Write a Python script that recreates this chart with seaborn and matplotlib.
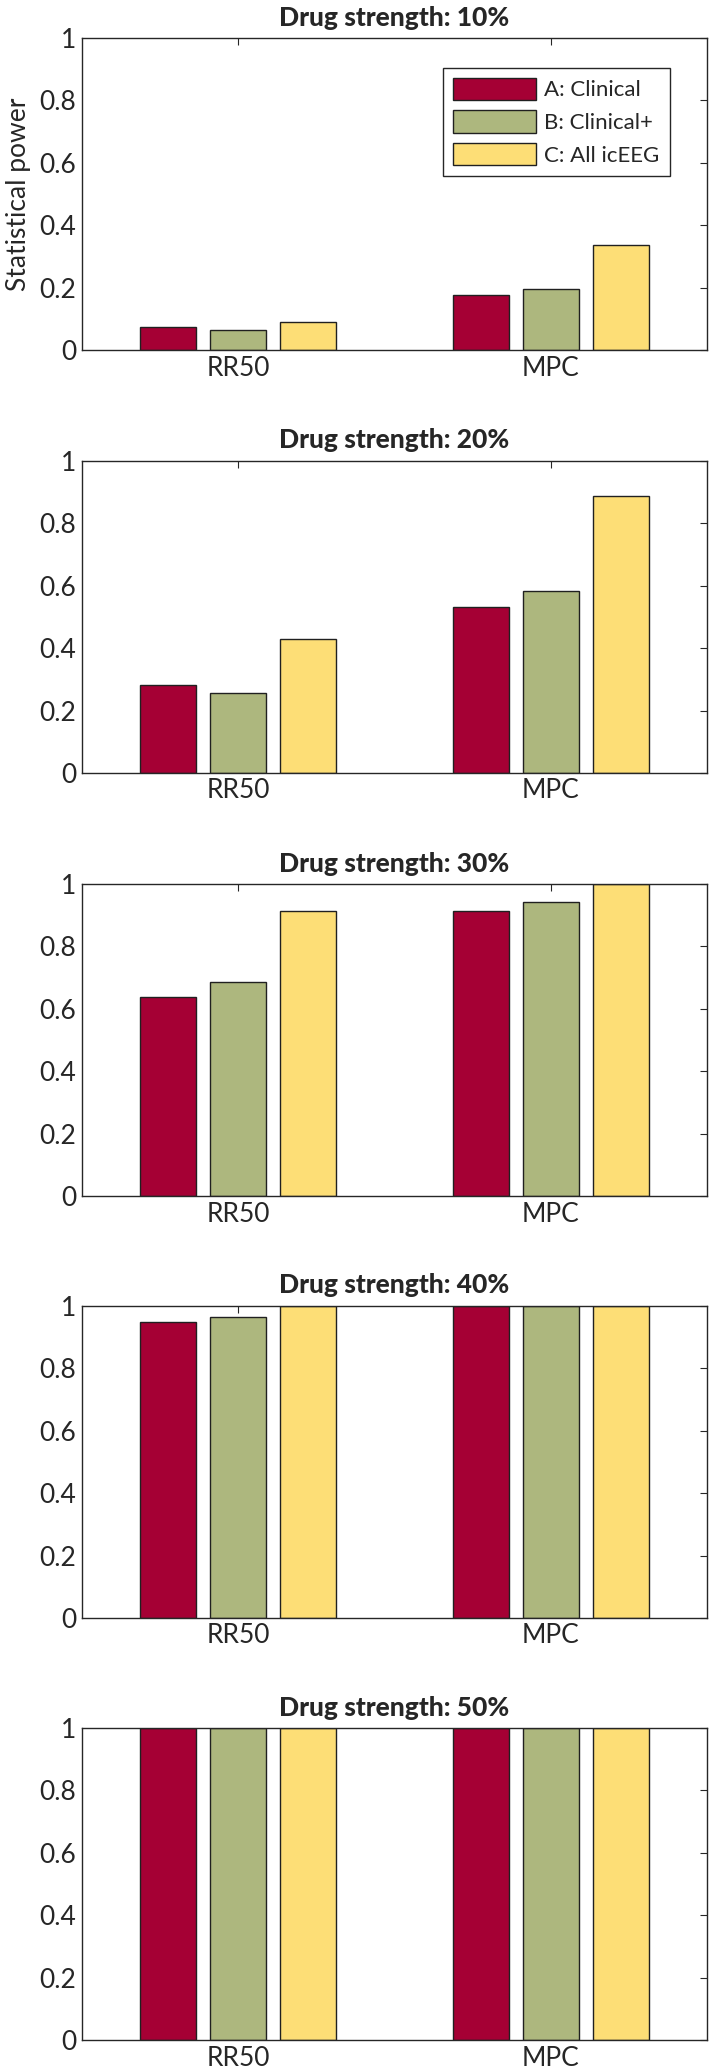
import matplotlib
matplotlib.use("Agg")
import matplotlib.pyplot as plt
import numpy as np
import pandas as pd
import seaborn as sns

strengths = ["10%", "20%", "30%", "40%", "50%"]
metrics = ["RR50", "MPC"]
groups = ["A: Clinical", "B: Clinical+", "C: All icEEG"]
colors = ["#A50034", "#ADB77E", "#FDDE76"]

# values per panel: [RR50, MPC]
power_clinical = [[0.073, 0.175], [0.281, 0.531], [0.639, 0.914], [0.948, 1.0], [1.0, 1.0]]
power_clinical_plus = [[0.063, 0.195], [0.257, 0.584], [0.686, 0.943], [0.964, 1.0], [1.0, 1.0]]
power_all_iceeg = [[0.090, 0.338], [0.429, 0.889], [0.914, 1.0], [1.0, 1.0], [1.0, 1.0]]

sns.set_style("white")
plt.rcParams["font.family"] = ["Lato", "DejaVu Sans"]

fig = plt.figure(figsize=(7.09, 20.70), dpi=100)

bottoms = [0.8309, 0.6266, 0.4222, 0.2184, 0.0145]
edge = "#262626"

for i, s in enumerate(strengths):
    rows = []
    for g, vals in zip(groups, [power_clinical, power_clinical_plus, power_all_iceeg]):
        for m, v in zip(metrics, vals[i]):
            rows.append({"metric": m, "group": g, "power": v})
    df = pd.DataFrame(rows)

    ax = fig.add_axes([0.1157, bottoms[i], 0.8815, 0.1507])

    sns.barplot(
        data=df,
        x="metric",
        y="power",
        hue="group",
        hue_order=groups,
        order=metrics,
        palette=colors,
        saturation=1,
        width=0.672,
        gap=0.2,
        edgecolor="#202020",
        linewidth=1.0,
        legend=(i == 0),
        ax=ax
    )

    ax.set_ylim(0, 1)
    ax.set_xlim(-0.5, 1.5)
    ax.set_yticks([0, 0.2, 0.4, 0.6, 0.8, 1])
    ax.set_yticklabels(["0", "0.2", "0.4", "0.6", "0.8", "1"])
    ax.set_xlabel("")
    ax.set_ylabel("Statistical power" if i == 0 else "", fontsize=19, labelpad=6)
    ax.set_title(f"Drug strength: {s}", fontsize=19, fontweight="black", pad=9)

    ax.tick_params(direction="in", length=5, width=0.8, color=edge,
                   top=True, right=True, labelsize=19, pad=4)
    for sp in ax.spines.values():
        sp.set_visible(True)
        sp.set_color(edge)
        sp.set_linewidth(1.0)

    if i == 0:
        leg = ax.legend(
            loc="upper right",
            bbox_to_anchor=(0.958, 0.94),
            fontsize=16,
            frameon=True,
            fancybox=False,
            framealpha=1,
            edgecolor=edge,
            handlelength=3.7,
            handleheight=1.15,
            labelspacing=0.45,
            borderpad=0.45,
            handletextpad=0.4
        )
        leg.get_frame().set_linewidth(1.0)

fig.savefig("out.png", dpi=100)
